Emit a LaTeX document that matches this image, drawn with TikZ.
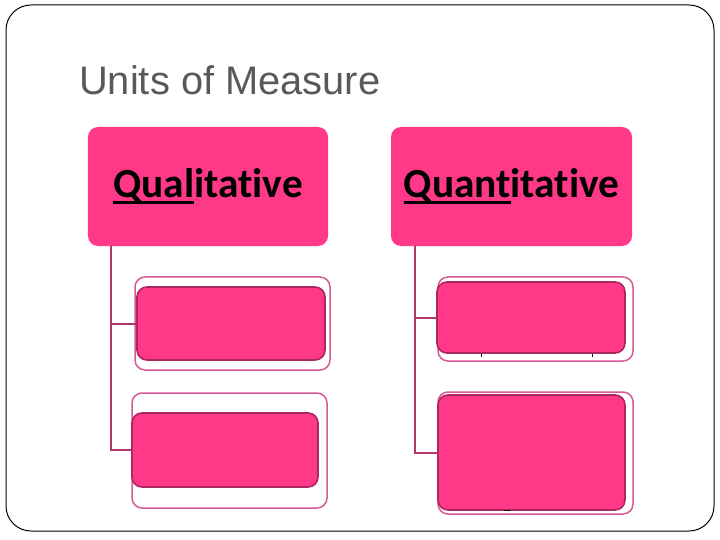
\documentclass[tikz,border=0pt]{standalone}
\usepackage{fontspec}
\setmainfont{Liberation Sans}
\newfontfamily\boxfont[Ligatures=NoCommon]{Carlito}
\definecolor{pinkfill}{RGB}{255,56,135}
\definecolor{innerline}{RGB}{170,40,95}
\definecolor{outerline}{RGB}{212,90,152}
\definecolor{connline}{RGB}{175,55,105}
\definecolor{titlegray}{RGB}{89,89,89}
\newcommand\myul[1]{\setbox0\hbox{#1}\rlap{\rule[-0.15em]{\wd0}{0.07em}}#1}
\begin{document}
\begin{tikzpicture}[x=1bp,y=-1bp,
  topbox/.style={fill=pinkfill,draw=none,rounded corners=10bp,inner sep=0,outer sep=0,
    font=\boxfont\bfseries\fontsize{41.5}{46}\selectfont,text=black},
  outerbox/.style={draw=outerline,line width=1.5bp,fill=white,rounded corners=10bp,inner sep=0,outer sep=0},
  innerbox/.style={draw=innerline,line width=1.6bp,fill=pinkfill,rounded corners=10bp,inner sep=0,outer sep=0},
  conn/.style={draw=connline,line width=2bp},
  tick/.style={draw=black,line width=1bp}]
\useasboundingbox (0,0) rectangle (720,540);
\draw[black,line width=1bp,rounded corners=25bp] (6,5) rectangle (714,531);
\node[anchor=base west,inner sep=0,text=titlegray,font=\fontsize{40}{46}\selectfont] (title) at (79,95) {Units of Measure};
% top boxes
\node[topbox,minimum width=240bp,minimum height=119bp] (qual) at (208,186.5) {\raisebox{-2.5bp}{\myul{Qual}itative}};
\node[topbox,minimum width=241bp,minimum height=119bp] (quant) at (511.5,186.5) {\raisebox{-2.5bp}{\myul{Quant}itative}};
% left children
\node[outerbox,minimum width=195bp,minimum height=93bp] (l1o) at (232.5,323.5) {};
\node[innerbox,minimum width=188bp,minimum height=73bp] (l1) at (231,323.5) {};
\node[outerbox,minimum width=195bp,minimum height=115bp] (l2o) at (229.5,450.5) {};
\node[innerbox,minimum width=186bp,minimum height=74bp] (l2) at (225,450) {};
% right children
\node[outerbox,minimum width=195bp,minimum height=84bp] (r1o) at (535.5,319) {};
\node[innerbox,minimum width=188bp,minimum height=71bp] (r1) at (531,317.5) {};
\node[outerbox,minimum width=195bp,minimum height=122bp] (r2o) at (535.5,453) {};
\node[innerbox,minimum width=187bp,minimum height=115bp] (r2) at (531.5,452.5) {};
% connectors
\coordinate (qs) at ([xshift=23bp]qual.south west);
\coordinate (ns) at ([xshift=24bp]quant.south west);
\draw[conn] (qs) |- (l1.west);
\draw[conn] (qs) |- (l2.west);
\draw[conn] (ns) |- (r1.west);
\draw[conn] (ns) |- (r2.west);
% small marks
\draw[tick] (481,354) -- (481,357);
\draw[tick] (592,354) -- (592,357);
\draw[tick] (504,510.5) -- (510,510.5);
\end{tikzpicture}
\end{document}
